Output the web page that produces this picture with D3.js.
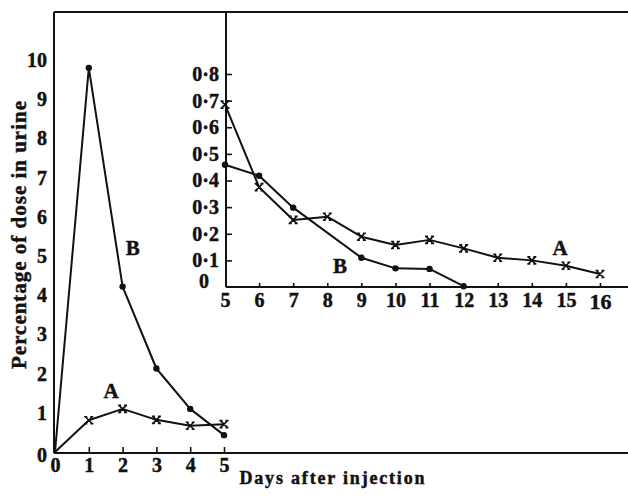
<!DOCTYPE html>
<html>
<head>
<meta charset="utf-8">
<script src="https://cdn.jsdelivr.net/npm/d3@7"></script>
<style>
  body { margin: 0; background: #fff; }
  svg text { font-family: "Liberation Serif", "Times New Roman", serif; font-weight: bold; fill: #111; stroke: #111; stroke-width: 0.45px; }
</style>
</head>
<body>
<svg id="chart" width="628" height="497"></svg>
<script>
'use strict';

// days 0-5, main panel
const daysEarly = [0, 1, 2, 3, 4, 5];
const earlyA = [0, 0.81, 1.10, 0.82, 0.67, 0.71];
const earlyB = [0, 9.8, 4.22, 2.13, 1.10, 0.43];

// days 5-16, inset panel
const daysLateA = [5, 6, 7, 8, 9, 10, 11, 12, 13, 14, 15, 16];
const lateA = [0.685, 0.375, 0.252, 0.264, 0.189, 0.158, 0.177, 0.145, 0.110, 0.100, 0.080, 0.049];
const daysLateB = [5, 6, 7, 9, 10, 11, 12];
const lateB = [0.459, 0.418, 0.298, 0.110, 0.070, 0.068, 0.003];

const mainYTicks = [0, 1, 2, 3, 4, 5, 6, 7, 8, 9, 10];
const mainXTicks = [0, 1, 2, 3, 4, 5];
const insetYTicks = [0, 0.1, 0.2, 0.3, 0.4, 0.5, 0.6, 0.7, 0.8];
const insetXTicks = [5, 6, 7, 8, 9, 10, 11, 12, 13, 14, 15, 16];

const W = 628;
const INK = '#111';

const svg = d3.select('#chart');

const xMain = d3.scaleLinear().domain([0, 5]).range([55, 224]);
const yMain = d3.scaleLinear().domain([0, 10]).range([452, 60]);
const xIn = d3.scaleLinear().domain([5, 16]).range([225, 600]);
const yIn = d3.scaleLinear().domain([0, 0.8]).range([287, 74]);

const TOP = 12;

// frame lines (outer box is open on the right)
function frameLine(x1, y1, x2, y2) {
  svg.append('line')
    .attr('x1', x1).attr('y1', y1).attr('x2', x2).attr('y2', y2)
    .attr('stroke', INK).attr('stroke-width', 2);
}
frameLine(54, TOP, W, TOP);
frameLine(54, TOP, 54, yMain(0) + 1);
frameLine(54, yMain(0) + 1, W, yMain(0) + 1);
frameLine(xIn(5) + 1, TOP, xIn(5) + 1, yIn(0));
frameLine(xIn(5) + 1, yIn(0), W, yIn(0));

function styleAxis(g, size) {
  g.select('.domain').remove();
  g.selectAll('.tick line').attr('stroke', INK).attr('stroke-width', 1.6);
  g.selectAll('.tick text').attr('font-size', size).attr('fill', INK);
}

// main axes
svg.append('g')
  .attr('transform', `translate(0,${yMain(0) + 1})`)
  .call(d3.axisBottom(xMain).tickValues(mainXTicks).tickFormat(d3.format('d'))
    .tickSizeInner(-6).tickSizeOuter(0).tickPadding(5))
  .call(g => styleAxis(g, 20))
  .call(g => g.selectAll('.tick line').filter(d => d === 0).remove());

svg.append('g')
  .attr('transform', 'translate(54,0)')
  .call(d3.axisLeft(yMain).tickValues(mainYTicks).tickFormat(d3.format('d')).tickSize(0).tickPadding(7))
  .call(g => styleAxis(g, 20))
  .call(g => g.selectAll('.tick text').filter(d => d === 0).attr('y', 3));

// inset axes
const dotFmt = d => d === 0 ? '0' : d3.format('.1f')(d).replace('.', '\u00b7');

svg.append('g')
  .attr('transform', `translate(0,${yIn(0)})`)
  .call(d3.axisBottom(xIn).tickValues(insetXTicks).tickSizeInner(-4).tickSizeOuter(0).tickPadding(6))
  .call(g => styleAxis(g, 20))
  .call(g => g.selectAll('.tick line').filter(d => d === 5).remove())
  .call(g => g.selectAll('.tick text').filter(d => d === 16).attr('font-size', 22));

svg.append('g')
  .attr('transform', `translate(${xIn(5) + 1},0)`)
  .call(d3.axisLeft(yIn).tickValues(insetYTicks).tickFormat(dotFmt).tickSizeInner(-6).tickSizeOuter(0).tickPadding(7))
  .call(g => styleAxis(g, 20))
  .call(g => g.selectAll('.tick line').filter(d => d === 0).remove())
  .call(g => g.selectAll('.tick text').filter(d => d === 0).attr('x', -17).attr('y', -6));

// series: line through all points, markers skip the origin
function drawSeries(xs, ys, xScale, yScale, marker) {
  const pts = xs.map((x, i) => [xScale(x), yScale(ys[i]), x]);
  svg.append('path')
    .attr('d', d3.line()(pts.map(p => [p[0], p[1]])))
    .attr('fill', 'none')
    .attr('stroke', INK)
    .attr('stroke-width', 2)
    .attr('stroke-linejoin', 'round');

  const marks = svg.append('g').selectAll('.m').data(pts.filter(p => p[2] !== 0)).enter();
  if (marker === 'dot') {
    marks.append('circle')
      .attr('cx', d => d[0]).attr('cy', d => d[1]).attr('r', 3.2)
      .attr('fill', INK);
  } else {
    marks.append('path')
      .attr('transform', d => `translate(${d[0]},${d[1]})`)
      .attr('d', 'M-3.5,-3.5L3.5,3.5M3.5,-3.5L-3.5,3.5M-4.5,-3.5H-1.5M1.5,-3.5H4.5M-4.5,3.5H-1.5M1.5,3.5H4.5')
      .attr('fill', 'none')
      .attr('stroke', INK)
      .attr('stroke-width', 1.6);
  }
}

drawSeries(daysEarly, earlyB, xMain, yMain, 'dot');
drawSeries(daysEarly, earlyA, xMain, yMain, 'cross');
drawSeries(daysLateB, lateB, xIn, yIn, 'dot');
drawSeries(daysLateA, lateA, xIn, yIn, 'cross');

// series labels
const seriesLabels = [
  {text: 'B', x: xMain(2.3), y: yMain(5.03)},
  {text: 'A', x: xMain(1.66), y: yMain(1.38)},
  {text: 'A', x: xIn(14.83), y: yIn(0.12)},
  {text: 'B', x: xIn(8.37), y: yIn(0.053)}
];
svg.selectAll('.series-label').data(seriesLabels).enter()
  .append('text')
  .classed('series-label', true)
  .attr('x', d => d.x).attr('y', d => d.y)
  .attr('text-anchor', 'middle')
  .attr('font-size', 21)
  .text(d => d.text);

// axis titles
svg.append('text')
  .attr('transform', 'translate(26,235) rotate(-90)')
  .attr('text-anchor', 'middle')
  .attr('font-size', 21)
  .attr('textLength', 268)
  .attr('lengthAdjust', 'spacing')
  .text('Percentage of dose in urine');

svg.append('text')
  .attr('x', 332).attr('y', 484)
  .attr('text-anchor', 'middle')
  .attr('font-size', 18)
  .attr('textLength', 185)
  .attr('lengthAdjust', 'spacing')
  .text('Days after injection');
</script>
</body>
</html>
